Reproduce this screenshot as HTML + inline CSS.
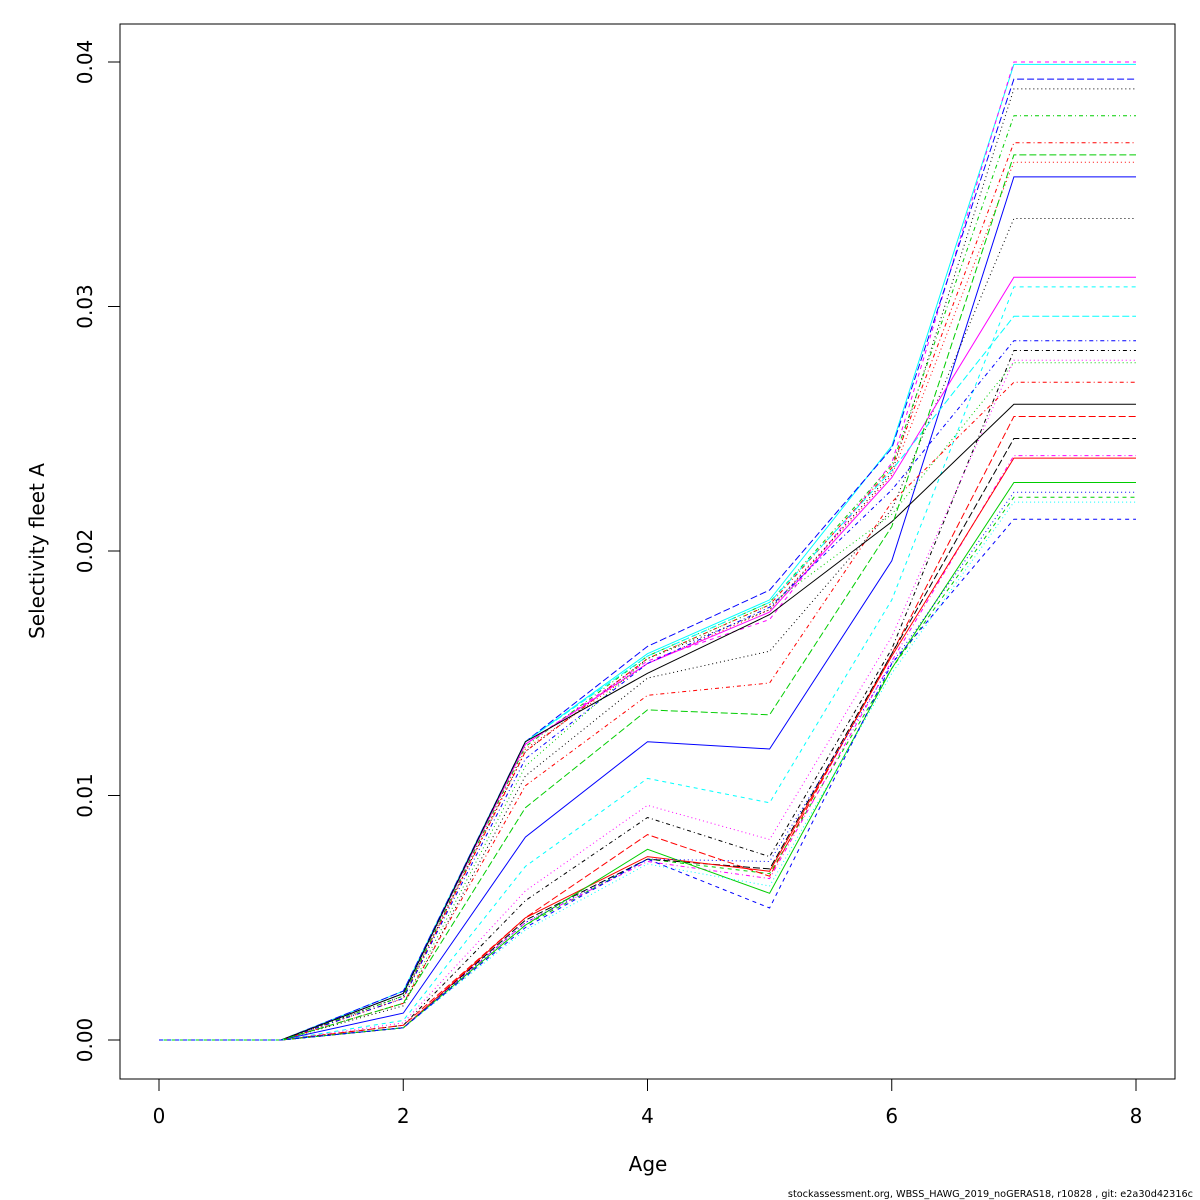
<!DOCTYPE html>
<html><head><meta charset="utf-8"><style>
html,body{margin:0;padding:0;background:#fff;}
svg{display:block;font-family:"DejaVu Sans","Liberation Sans",sans-serif;}
</style></head><body>
<svg id="chart" width="1200" height="1200" viewBox="0 0 1200 1200" xmlns="http://www.w3.org/2000/svg">
<rect x="0" y="0" width="1200" height="1200" fill="#fff"/>
<g id="lines"></g>
<g id="axes"></g>
<rect x="120" y="24" width="1055" height="1055" fill="none" stroke="#000" stroke-width="1"/>
<text x="648" y="1171" font-size="20" text-anchor="middle">Age</text>
<text transform="translate(44,551) rotate(-90)" font-size="20" text-anchor="middle">Selectivity fleet A</text>
<text x="1193" y="1197" font-size="9.7" text-anchor="end">stockassessment.org, WBSS_HAWG_2019_noGERAS18, r10828 , git: e2a30d42316c</text>
</svg>
<script>
const ages = [0,1,2,3,4,5,6,7,8];
const xTicks = [0,2,4,6,8];
const yTicks = [0,0.01,0.02,0.03,0.04];
const yTickLabels = ["0.00","0.01","0.02","0.03","0.04"];
// values at ages 2..7 (ages 0,1 = 0; age 8 = age 7)
const s01=[.0020,.0122,.0158,.0180,.0243,.0399];
const s02=[.0019,.0121,.0155,.0172,.0236,.0400];
const s03=[.0020,.0122,.0161,.0184,.0242,.0393];
const s04=[.0018,.0118,.0156,.0176,.0232,.0389];
const s05=[.0018,.0120,.0157,.0179,.0235,.0378];
const s06=[.0017,.0118,.0156,.0178,.0234,.0367];
const s07=[.0005,.0047,.0074,.0068,.0152,.0222];
const s08=[.0017,.0119,.0154,.0176,.0231,.0359];
const s09=[.0011,.0083,.0122,.0119,.0196,.0353];
const s10=[.0014,.0108,.0148,.0159,.0217,.0336];
const s11=[.0019,.0121,.0154,.0175,.0230,.0312];
const s12=[.0008,.0071,.0107,.0097,.0180,.0308];
const s13=[.0019,.0122,.0157,.0179,.0233,.0296];
const s14=[.0017,.0115,.0154,.0177,.0225,.0286];
const s15=[.0006,.0057,.0091,.0075,.0160,.0282];
const s16=[.0007,.0061,.0096,.0082,.0165,.0278];
const s17=[.0015,.0112,.0156,.0178,.0215,.0277];
const s18=[.0015,.0104,.0141,.0146,.0220,.0269];
const s19=[.0019,.0122,.0150,.0174,.0212,.0260];
const s20=[.0006,.0050,.0084,.0067,.0158,.0255];
const s21=[.0005,.0049,.0074,.0070,.0158,.0246];
const s22=[.0005,.0048,.0073,.0066,.0155,.0239];
const s23=[.0005,.0050,.0075,.0069,.0157,.0238];
const s24=[.0005,.0047,.0078,.0060,.0152,.0228];
const s25=[.0005,.0048,.0074,.0073,.0154,.0224];
const s26=[.0015,.0095,.0135,.0133,.0210,.0362];
const s27=[.0005,.0045,.0072,.0063,.0150,.0220];
const s28=[.0005,.0046,.0074,.0054,.0154,.0213];
const seriesList=[s01,s02,s03,s04,s05,s06,s07,s08,s09,s10,s11,s12,s13,s14,s15,s16,s17,s18,s19,s20,s21,s22,s23,s24,s25,s26,s27,s28];
const seriesColors=["#00FFFF","#FF00FF","#0000FF","#000000","#00CD00","#FF0000","#00CD00","#FF0000","#0000FF","#000000","#FF00FF","#00FFFF","#00FFFF","#0000FF","#000000","#FF00FF","#00CD00","#FF0000","#000000","#FF0000","#000000","#FF00FF","#FF0000","#00CD00","#0000FF","#00CD00","#00FFFF","#0000FF"];
const seriesLty=["solid","dashed","longdash","dotted","dotdash","dotdash","dashed","dotted","solid","dotted","solid","dashed","longdash","dotdash","dotdash","dotted","dotted","dotdash","solid","longdash","longdash","dotdash","solid","solid","dotted","longdash","dotted","dashed"];
const dashMap={solid:"",dashed:"4 4",dotted:"1 3",dotdash:"1 3 4 3",longdash:"7 3"};
const NS="http://www.w3.org/2000/svg";
const xS=a=>159+(a-0)*(1136-159)/8;
const yS=v=>1040-v*(1040-62)/0.04;
const lines=document.getElementById('lines');
seriesList.forEach((s,i)=>{
  const vals=[0,0].concat(s).concat([s[s.length-1]]);
  const pts=vals.map((v,k)=>xS(ages[k]).toFixed(1)+","+yS(v).toFixed(1)).join(" ");
  const p=document.createElementNS(NS,'polyline');
  
  
  p.setAttribute('points',pts);
  p.setAttribute('fill','none');
  p.setAttribute('stroke',seriesColors[i]);
  p.setAttribute('stroke-width','1');
  if(dashMap[seriesLty[i]]) p.setAttribute('stroke-dasharray',dashMap[seriesLty[i]]);
  lines.appendChild(p);
});
const axes=document.getElementById('axes');
function mk(tag,attrs,text){const e=document.createElementNS(NS,tag);for(const k in attrs)e.setAttribute(k,attrs[k]);if(text!==undefined)e.textContent=text;axes.appendChild(e);return e;}
const xl=mk('line',{x1:xS(0),x2:xS(8),y1:1079,y2:1079,stroke:'#000'});


xTicks.forEach(t=>{
  const tk=mk('line',{x1:xS(t),x2:xS(t),y1:1079,y2:1091,stroke:'#000'});
  
  
  const lb=mk('text',{x:xS(t),y:1123,'font-size':20,'text-anchor':'middle'},String(t));
  
  
});
const yl=mk('line',{x1:120,x2:120,y1:yS(0),y2:yS(0.04),stroke:'#000'});


yTicks.forEach((t,i)=>{
  const tk=mk('line',{x1:108,x2:120,y1:yS(t),y2:yS(t),stroke:'#000'});
  
  
  const lb=mk('text',{transform:`translate(92,${yS(t)}) rotate(-90)`,'font-size':20,'text-anchor':'middle'},yTickLabels[i]);
  
  
});
</script>
</body></html>
